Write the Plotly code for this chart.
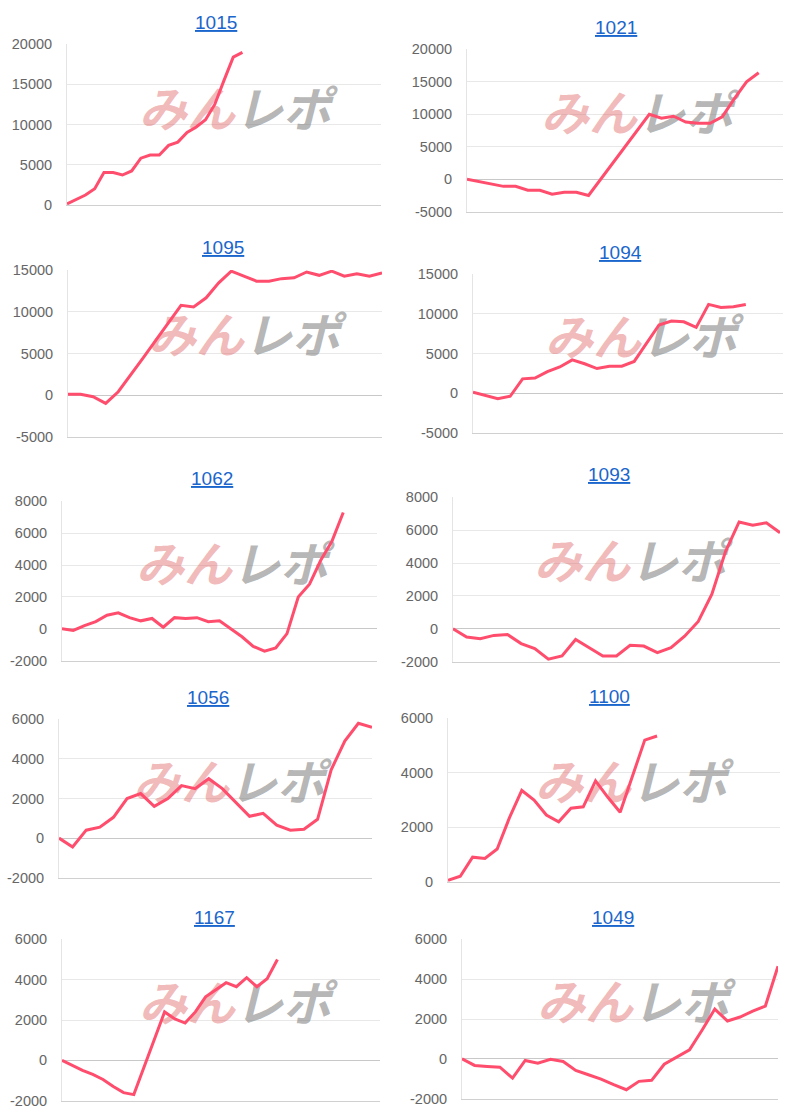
import plotly.graph_objects as go

W, H = 800, 1120

# ---------------- data ----------------
titles = ["1015", "1021", "1095", "1094", "1062", "1093", "1056", "1100", "1167", "1049"]
label_counts = [35, 27, 26, 26, 29, 25, 24, 28, 32, 26]

s1015 = [100, 700, 1200, 2000, 4000, 4000, 3700, 4200, 5800, 6200, 6200, 7400, 7800,
         9000, 9700, 10600, 12500, 15500, 18400, 19000]
s1021 = [0, -400, -800, -1100, -1100, -1700, -1700, -2300, -2000, -2000, -2500, 0, 2500,
         5000, 7500, 10000, 9400, 9700, 8800, 8600, 8600, 9600, 12400, 15000, 16400]
s1095 = [100, 100, -200, -1000, 400, 2400, 4500, 6600, 8700, 10800, 10600, 11700, 13500,
         14900, 14300, 13700, 13700, 14000, 14100, 14800, 14400, 14900, 14300, 14600, 14300, 14700]
s1094 = [100, -300, -700, -400, 1800, 1900, 2700, 3300, 4200, 3700, 3100, 3400, 3400,
         4000, 6300, 8600, 9100, 9000, 8300, 11200, 10800, 10900, 11200]
s1062 = [0, -100, 200, 450, 850, 1000, 700, 500, 650, 100, 700, 650, 700, 450, 500, 0,
         -500, -1100, -1400, -1200, -300, 2000, 2800, 4300, 5500, 7300]
s1093 = [0, -500, -600, -400, -350, -900, -1200, -1850, -1650, -650, -1150, -1650, -1650,
         -1000, -1050, -1450, -1150, -450, 450, 2100, 4700, 6500, 6300, 6450, 5850]
s1056 = [0, -450, 400, 550, 1050, 2000, 2250, 1600, 2000, 2650, 2500, 3000, 2500, 1800,
         1100, 1250, 650, 400, 450, 950, 3450, 4900, 5800, 5600]
s1100 = [50, 200, 900, 850, 1200, 2350, 3350, 3000, 2450, 2200, 2700, 2750, 3700, 3100,
         2550, 3900, 5200, 5350]
s1167 = [0, -250, -500, -700, -950, -1300, -1600, -1700, -300, 1100, 2400, 2050, 1850,
         2400, 3150, 3500, 3850, 3650, 4100, 3650, 4050, 5000]
s1049 = [0, -330, -380, -420, -970, -80, -220, -20, -130, -580, -800, -1020, -1300, -1550,
         -1130, -1080, -270, 70, 450, 1450, 2500, 1900, 2100, 2400, 2650, 4650]

series = [s1015, s1021, s1095, s1094, s1062, s1093, s1056, s1100, s1167, s1049]

y_min = [0, -5000, -5000, -5000, -2000, -2000, -2000, 0, -2000, -2000]
y_max = [20000, 20000, 15000, 15000, 8000, 8000, 6000, 6000, 6000, 6000]
y_step = [5000, 5000, 5000, 5000, 2000, 2000, 2000, 2000, 2000, 2000]

# ---------------- layout (pixel boxes) ----------------
# plot area: x0, x1, ytop, ybottom
boxes = [
    (67, 381, 44, 205), (467, 783, 49, 212),
    (68, 382, 270, 437), (473, 783, 274, 433),
    (62, 377, 501, 661), (453, 780, 497, 662),
    (59, 372, 719, 878), (448, 780, 718, 882),
    (62, 380, 939, 1101), (462, 778, 939, 1099),
]
title_pos = [(216, 22), (616, 27), (223, 247), (620, 253), (212, 479),
             (609, 474), (208, 697), (609, 696), (214, 917), (613, 917)]
wm_pos = [(235, 115), (637, 119), (244, 341), (641, 343), (232, 570),
          (630, 567), (229, 788), (631, 788), (235, 1009), (633, 1008)]

LINE_COLOR = "#ff4d6d"
GRID = "#e8e8e8"
TICK_FONT = dict(family="Liberation Sans, Arial, sans-serif", size=14.5, color="#666666")

fig = go.Figure()
layout = dict(
    width=W, height=H, autosize=False,
    margin=dict(l=0, r=0, t=0, b=0, pad=0, autoexpand=False),
    paper_bgcolor="white", plot_bgcolor="rgba(0,0,0,0)",
    showlegend=False, annotations=[],
)

for i in range(10):
    n = i + 1
    xa = "x" if n == 1 else f"x{n}"
    ya = "y" if n == 1 else f"y{n}"
    x0, x1, yt, yb = boxes[i]
    L = label_counts[i]
    vals = series[i]
    lo, hi, st = y_min[i], y_max[i], y_step[i]
    span = hi - lo

    # watermark (under the line)
    wx, wy = wm_pos[i]

    def to_x(px):
        return 1 + (px - x0) / (x1 - x0) * (L - 1)

    wy_data = hi - (wy - yt) / (yb - yt) * span
    fig.add_trace(go.Scatter(
        x=[to_x(wx - 48), to_x(wx + 48)], y=[wy_data, wy_data],
        mode="text", text=["みん", "レポ"],
        textposition="middle center",
        textfont=dict(family="Noto Sans CJK JP", size=48, weight="bold", style="italic",
                      color=["rgba(225,100,100,0.45)", "rgba(120,120,120,0.55)"]),
        hoverinfo="skip", xaxis=xa, yaxis=ya,
    ))

    fig.add_trace(go.Scatter(
        x=list(range(1, len(vals) + 1)), y=vals,
        mode="lines", line=dict(color=LINE_COLOR, width=3),
        xaxis=xa, yaxis=ya, hoverinfo="skip",
    ))

    tv = list(range(lo, hi + 1, st))
    layout["xaxis" if n == 1 else f"xaxis{n}"] = dict(
        domain=[x0 / W, x1 / W], anchor=ya, range=[1, L],
        showgrid=False, zeroline=False, showticklabels=False, ticks="",
        showline=True, linecolor="#d0d0d0", linewidth=1, fixedrange=True,
    )
    layout["yaxis" if n == 1 else f"yaxis{n}"] = dict(
        domain=[1 - yb / H, 1 - yt / H], anchor=xa,
        range=[lo - span * 0.002, hi + span * 0.002],
        tickvals=tv, ticktext=[str(v) for v in tv], tickfont=TICK_FONT,
        showgrid=True, gridcolor=GRID, gridwidth=1,
        zeroline=True, zerolinecolor="#c8c8c8", zerolinewidth=1,
        showline=True, linecolor="#e4e4e4", linewidth=1,
        ticks="", ticklabelstandoff=11, fixedrange=True,
    )

    tx, ty = title_pos[i]
    layout["annotations"].append(dict(
        x=tx / W, y=1 - ty / H, xref="paper", yref="paper",
        text=f"<u>{titles[i]}</u>", showarrow=False,
        xanchor="center", yanchor="middle",
        font=dict(family="Liberation Sans, Arial, sans-serif", size=19, color="#1a66cc"),
    ))

fig.update_layout(**layout)
fig.write_html(
    "out.html",
    config={"responsive": False, "displayModeBar": False},
    post_script=(
        "document.documentElement.style.margin='0';"
        "document.documentElement.style.padding='0';"
        "document.documentElement.style.height='1120px';"
        "document.documentElement.style.overflow='hidden';"
        "document.body.style.margin='0';"
        "document.body.style.padding='0';"
        "document.body.style.height='1120px';"
        "document.body.style.overflow='hidden';"
        "var gd=document.getElementsByClassName('plotly-graph-div')[0];"
        "gd.style.position='absolute';gd.style.top='0px';gd.style.left='0px';"
    ),
)
